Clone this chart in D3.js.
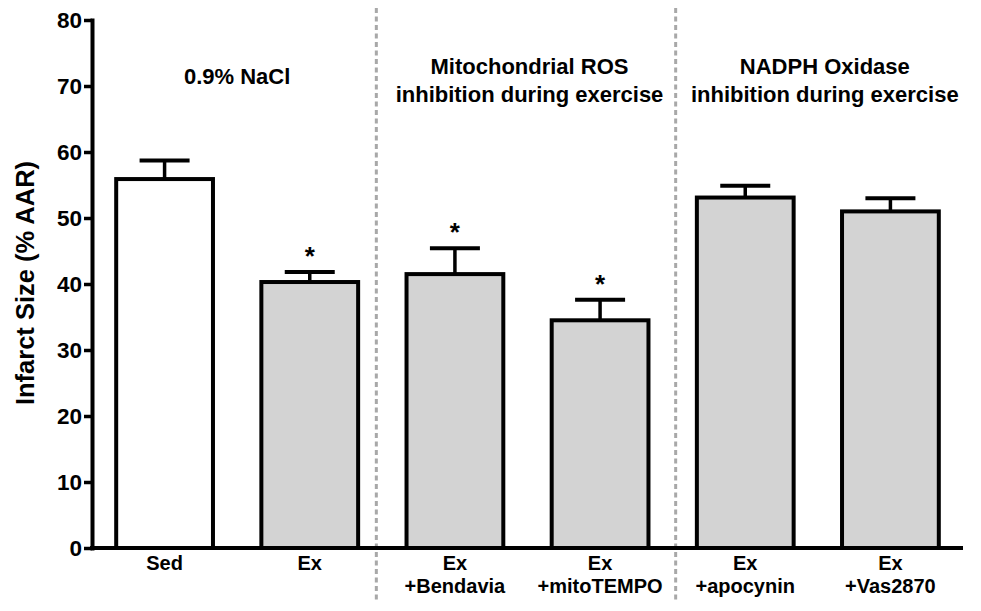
<!DOCTYPE html>
<html>
<head>
<meta charset="utf-8">
<script src="https://cdn.jsdelivr.net/npm/d3@7"></script>
<style>
  html, body { margin: 0; padding: 0; background: #fff; }
  svg { display: block; }
  text { font-family: "Liberation Sans", Arial, Helvetica, sans-serif; font-weight: bold; fill: #000; }
</style>
</head>
<body>
<svg id="chart" width="981" height="611"></svg>
<script>
// ---- data ----
const categories = ["Sed", "Ex", "Ex+Bendavia", "Ex+mitoTEMPO", "Ex+apocynin", "Ex+Vas2870"];
const categoryLines = [["Sed"], ["Ex"], ["Ex", "+Bendavia"], ["Ex", "+mitoTEMPO"], ["Ex", "+apocynin"], ["Ex", "+Vas2870"]];
const meanValues = [55.9, 40.3, 41.5, 34.5, 53.1, 51.0];
const semValues = [2.8, 1.5, 3.9, 3.1, 1.8, 2.0];
const significant = [false, true, true, true, false, false];
const yTicks = [0, 10, 20, 30, 40, 50, 60, 70, 80];
const groupLabels = [["0.9% NaCl"], ["Mitochondrial ROS", "inhibition during exercise"], ["NADPH Oxidase", "inhibition during exercise"]];
const groupMembers = [[0, 1], [2, 3], [4, 5]];
const yTitle = "Infarct Size (% AAR)";

// ---- layout ----
const svg = d3.select("#chart");
const x = d3.scaleBand().domain(categories).range([92, 963]).paddingInner(1/3).paddingOuter(1/6);
const y = d3.scaleLinear().domain([0, 80]).range([548, 20]);
const fills = ["#ffffff", "#d3d3d3", "#d3d3d3", "#d3d3d3", "#d3d3d3", "#d3d3d3"];

// separators
const sepOffsets = [-6, 3];
[2, 4].forEach((i, k) => {
  const xs = x(categories[i]) - x.step() * x.paddingInner() / 2 + sepOffsets[k];
  svg.append("line")
    .attr("x1", xs).attr("x2", xs).attr("y1", 8).attr("y2", 603)
    .attr("stroke", "#a8a8a8").attr("stroke-width", 3)
    .attr("stroke-dasharray", "5,3.5");
});

// bars
const data = categories.map((c, i) => ({c, v: meanValues[i], e: semValues[i], s: significant[i], f: fills[i]}));
svg.selectAll("rect.bar").data(data).join("rect")
  .attr("class", "bar")
  .attr("x", d => x(d.c))
  .attr("width", x.bandwidth())
  .attr("y", d => y(d.v))
  .attr("height", d => y(0) - y(d.v))
  .attr("fill", d => d.f)
  .attr("stroke", "#000").attr("stroke-width", 4);

// error bars
const capHalf = 25;
const eg = svg.selectAll("g.err").data(data).join("g").attr("class", "err");
eg.append("line")
  .attr("x1", d => x(d.c) + x.bandwidth() / 2).attr("x2", d => x(d.c) + x.bandwidth() / 2)
  .attr("y1", d => y(d.v)).attr("y2", d => y(d.v + d.e))
  .attr("stroke", "#000").attr("stroke-width", 3.5);
eg.append("line")
  .attr("x1", d => x(d.c) + x.bandwidth() / 2 - capHalf).attr("x2", d => x(d.c) + x.bandwidth() / 2 + capHalf)
  .attr("y1", d => y(d.v + d.e)).attr("y2", d => y(d.v + d.e))
  .attr("stroke", "#000").attr("stroke-width", 4);

// asterisks
svg.selectAll("text.star").data(data.filter(d => d.s)).join("text")
  .attr("class", "star")
  .attr("x", d => x(d.c) + x.bandwidth() / 2)
  .attr("y", d => y(d.v + d.e) - 7)
  .attr("text-anchor", "middle")
  .style("font-size", "26px")
  .text("*");

// y axis
const yAxis = svg.append("g").attr("transform", "translate(92,0)")
  .call(d3.axisLeft(y).tickValues(yTicks).tickSize(8).tickPadding(2).tickSizeOuter(0));
yAxis.select(".domain").attr("stroke", "#000").attr("stroke-width", 4).attr("stroke-linecap", "square");
yAxis.selectAll(".tick line").attr("stroke", "#000").attr("stroke-width", 3.5);
yAxis.selectAll(".tick text").style("font-size", "22.5px").style("font-family", "'Liberation Sans', Arial, sans-serif").style("font-weight", "bold").attr("fill", "#000");

// x axis line
svg.append("line")
  .attr("x1", 90).attr("x2", 963).attr("y1", y(0)).attr("y2", y(0))
  .attr("stroke", "#000").attr("stroke-width", 4);

// x labels
categoryLines.forEach((lines, i) => {
  const t = svg.append("text")
    .attr("x", x(categories[i]) + x.bandwidth() / 2)
    .attr("y", 570)
    .attr("text-anchor", "middle")
    .style("font-size", "20px");
  lines.forEach((l, j) => {
    t.append("tspan").attr("x", x(categories[i]) + x.bandwidth() / 2).attr("dy", j === 0 ? 0 : 23).text(l);
  });
});

// group labels
const groupDx = [0, 2, 7];
groupLabels.forEach((lines, g) => {
  const m = groupMembers[g];
  const cx = (x(categories[m[0]]) + x(categories[m[1]]) + x.bandwidth()) / 2 + groupDx[g];
  const y0 = lines.length === 1 ? 84 : 74;
  const t = svg.append("text")
    .attr("x", cx).attr("y", y0)
    .attr("text-anchor", "middle")
    .style("font-size", "22px");
  lines.forEach((l, j) => {
    t.append("tspan").attr("x", cx).attr("dy", j === 0 ? 0 : 28).text(l);
  });
});

// y title
svg.append("text")
  .attr("transform", "translate(34,283) rotate(-90)")
  .attr("text-anchor", "middle")
  .style("font-size", "25.5px")
  .text(yTitle);
</script>
</body>
</html>
